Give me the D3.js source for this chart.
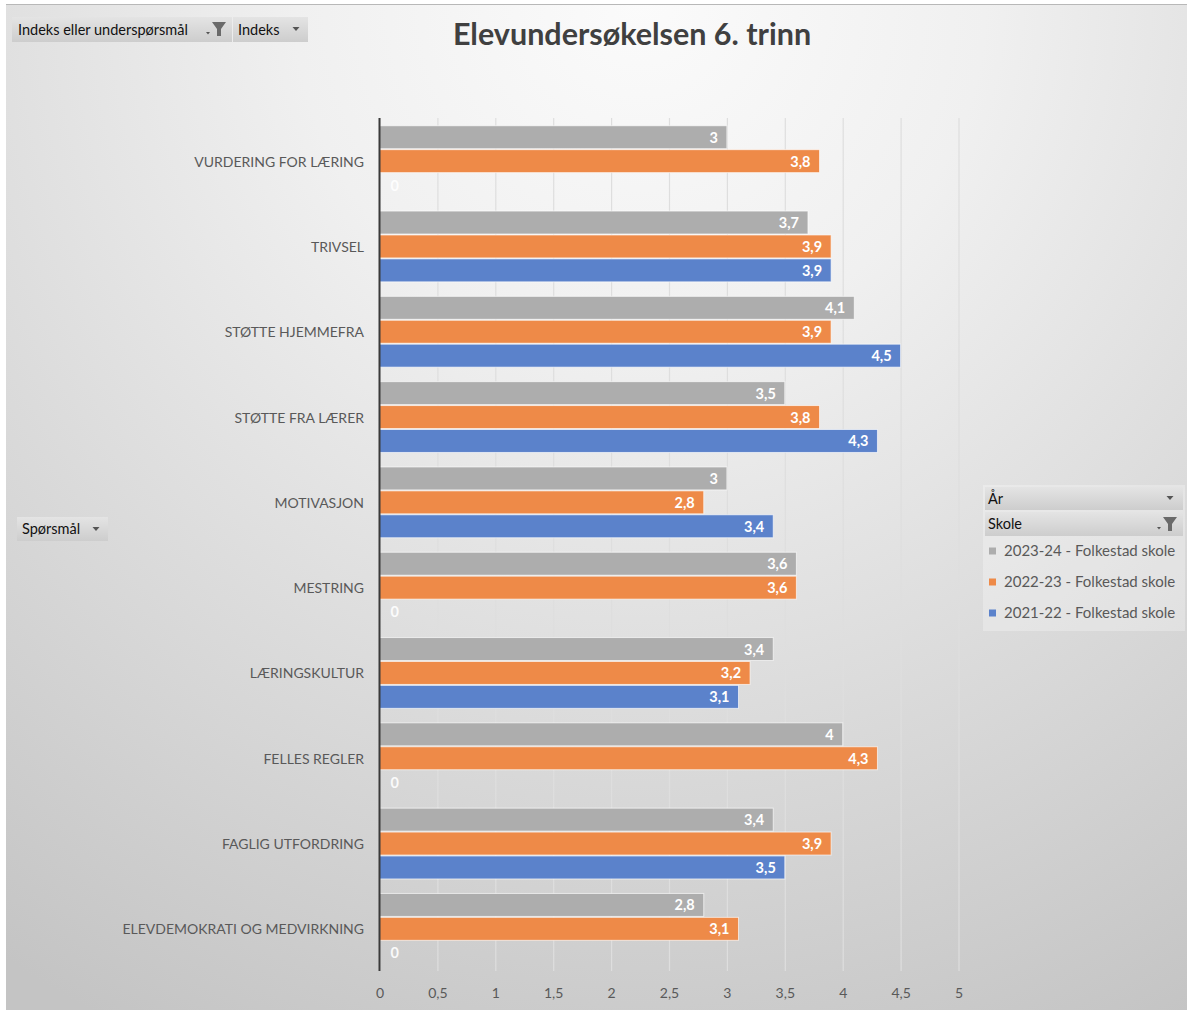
<!DOCTYPE html>
<html><head><meta charset="utf-8">
<script src="https://cdn.jsdelivr.net/npm/d3@7"></script>
<style>
html,body{margin:0;padding:0;background:#fff;}
svg{display:block;font-family:Lato,"Open Sans",sans-serif;}
</style></head>
<body>
<script>
const categories = ["VURDERING FOR LÆRING","TRIVSEL","STØTTE HJEMMEFRA","STØTTE FRA LÆRER","MOTIVASJON","MESTRING","LÆRINGSKULTUR","FELLES REGLER","FAGLIG UTFORDRING","ELEVDEMOKRATI OG MEDVIRKNING"];
const seriesNames = ["2023-24 - Folkestad skole","2022-23 - Folkestad skole","2021-22 - Folkestad skole"];
const values2324 = [3,3.7,4.1,3.5,3,3.6,3.4,4,3.4,2.8];
const values2223 = [3.8,3.9,3.9,3.8,2.8,3.6,3.2,4.3,3.9,3.1];
const values2122 = [0,3.9,4.5,4.3,3.4,0,3.1,0,3.5,0];
const tickValues = [0,0.5,1,1.5,2,2.5,3,3.5,4,4.5,5];
const title = "Elevundersøkelsen 6. trinn";
const colors = ["#adadad","#ee8a48","#5b82cb"];

const seriesValues = [values2324, values2223, values2122];
const W = 1187, H = 1012;
const svg = d3.select("body").append("svg").attr("width", W).attr("height", H);
const defs = svg.append("defs");
const rg = defs.append("radialGradient").attr("id","bg").attr("gradientUnits","userSpaceOnUse")
  .attr("cx",640).attr("cy",0).attr("r",1150);
rg.append("stop").attr("offset","0%").attr("stop-color","#fbfbfb");
rg.append("stop").attr("offset","30%").attr("stop-color","#f0f0f0");
rg.append("stop").attr("offset","100%").attr("stop-color","#c4c4c4");
const gg = defs.append("linearGradient").attr("id","grid").attr("gradientUnits","userSpaceOnUse")
  .attr("x1",0).attr("y1",118).attr("x2",0).attr("y2",971);
gg.append("stop").attr("offset","0%").attr("stop-color","#dedede");
gg.append("stop").attr("offset","100%").attr("stop-color","#8a8a8a");
const bg = defs.append("linearGradient").attr("id","btn").attr("x1",0).attr("y1",0).attr("x2",0).attr("y2",1);
bg.append("stop").attr("offset","0%").attr("stop-color","#e4e4e4");
bg.append("stop").attr("offset","100%").attr("stop-color","#cdcdcd");

// chart area
svg.append("rect").attr("x",6).attr("y",4).attr("width",W-6).attr("height",1006).attr("fill","url(#bg)");
svg.append("line").attr("x1",6).attr("x2",W).attr("y1",4.5).attr("y2",4.5).attr("stroke","#b8b8b8");

const x = d3.scaleLinear().domain([0,5]).range([379.5,958.5]);
const y = d3.scaleBand().domain(categories).range([118,971]).paddingInner(0.17).paddingOuter(0.085);
const ySub = d3.scaleBand().domain(d3.range(seriesNames.length)).range([0,y.bandwidth()]).paddingInner(0.04);

// gridlines
const gridAxis = d3.axisBottom(x).tickValues(tickValues).tickSize(-(971-118)).tickFormat("");
const gridG = svg.append("g").attr("transform","translate(0,971)").call(gridAxis);
gridG.select(".domain").remove();
gridG.selectAll("line").attr("stroke","url(#grid)").attr("stroke-width",1.2);

// bars
const fmt = v => String(v).replace(".", ",");
categories.forEach((c, ci) => {
  seriesValues.forEach((vals, si) => {
    const v = vals[ci];
    const by = y(c) + ySub(si) + 0.5;
    const bh = ySub.bandwidth();
    if (v > 0) {
      svg.append("rect").attr("x", x(0)).attr("y", by).attr("width", x(v)-x(0)).attr("height", bh)
        .attr("fill", colors[si]).attr("stroke","rgba(255,255,255,0.65)").attr("stroke-width",1);
      svg.append("text").attr("x", x(v)-9).attr("y", by+bh/2).attr("dy","0.38em")
        .attr("text-anchor","end").attr("fill","#fff").attr("font-weight","bold").attr("font-size",14.5)
        .text(fmt(v));
    } else {
      svg.append("text").attr("x", x(0)+11).attr("y", by+bh/2).attr("dy","0.38em")
        .attr("text-anchor","start").attr("fill","#fff").attr("font-weight","bold").attr("font-size",14.5)
        .attr("opacity",0.9).text(fmt(v));
    }
  });
});

// y axis line and labels
svg.append("line").attr("x1",379.5).attr("x2",379.5).attr("y1",118).attr("y2",971).attr("stroke","#3a3a3a").attr("stroke-width",2);
const yAxis = d3.axisLeft(y).tickSize(0).tickPadding(15);
const yG = svg.append("g").attr("transform","translate(379,1.5)").call(yAxis);
yG.select(".domain").remove();
yG.selectAll("text").attr("font-size",14).attr("fill","#595959").attr("font-family","Lato,sans-serif");

// x axis labels
const xAxis = d3.axisBottom(x).tickValues(tickValues).tickSize(0).tickPadding(17).tickFormat(fmt);
const xG = svg.append("g").attr("transform","translate(0,971)").call(xAxis);
xG.select(".domain").remove();
xG.selectAll("text").attr("font-size",14).attr("fill","#595959").attr("font-family","Lato,sans-serif");

// title
svg.append("text").attr("x",632).attr("y",45).attr("text-anchor","middle").attr("font-size",30.5)
  .attr("font-weight","bold").attr("fill","#404040").text(title);

// buttons
function dropArrow(cx, cy) {
  svg.append("path").attr("d",`M${cx-3.5},${cy-2}L${cx+3.5},${cy-2}L${cx},${cy+2}Z`).attr("fill","#555");
}
function filterIcon(cx, cy) {
  svg.append("path").attr("d",`M${cx-7},${cy-7}L${cx+7},${cy-7}L${cx+2},${cy}L${cx+2},${cy+7}L${cx-2},${cy+7}L${cx-2},${cy}Z`).attr("fill","#6a6a6a");
  svg.append("path").attr("d",`M${cx-13},${cy+3}L${cx-9},${cy+3}L${cx-11},${cy+5.5}Z`).attr("fill","#555");
}
function button(x0, y0, w, h, label, tx) {
  svg.append("rect").attr("x",x0).attr("y",y0).attr("width",w).attr("height",h).attr("fill","url(#btn)");
  svg.append("text").attr("x",x0+(tx||5)).attr("y",y0+h/2).attr("dy","0.35em").attr("font-size",14.5).attr("fill","#111").text(label);
}
button(12,17,220,25,"Indeks eller underspørsmål", 6);
filterIcon(219,29);
button(233,17,75,25,"Indeks");
dropArrow(296,29);
button(17,517,91,24,"Spørsmål");
dropArrow(96,529);

// legend
svg.append("rect").attr("x",983).attr("y",485).attr("width",202).attr("height",146).attr("fill","rgba(255,255,255,0.28)");
button(985,487,198,23,"År", 3);
dropArrow(1170,498);
button(985,512,198,24,"Skole", 3);
filterIcon(1170,524);
seriesNames.forEach((s, i) => {
  const ly = 551 + i*31;
  svg.append("rect").attr("x",989).attr("y",ly-3.5).attr("width",7).attr("height",7).attr("fill",colors[i]);
  svg.append("text").attr("x",1004).attr("y",ly).attr("dy","0.35em").attr("font-size",15).attr("fill","#595959").text(s);
});
</script>
</body></html>
